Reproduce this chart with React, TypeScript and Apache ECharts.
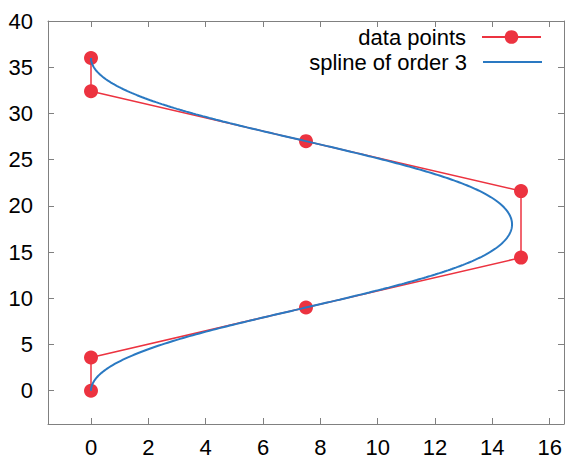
import React, { useEffect, useRef } from "react";
import * as echarts from "echarts";

const pointX = [0, 0, 7.5, 15, 15, 7.5, 0, 0];
const pointY = [0, 3.6, 9, 14.4, 21.6, 27, 32.4, 36];
const xTicks = [0, 2, 4, 6, 8, 10, 12, 14, 16];
const yTicks = [0, 5, 10, 15, 20, 25, 30, 35, 40];
const seriesNames = ["data points", "spline of order 3"];
const splineOrder = 3;

// clamped B-spline through the control points (de Boor)
function bspline(xs: number[], ys: number[], degree: number, samples: number) {
  const n = xs.length;
  const knots: number[] = [];
  for (let i = 0; i <= n + degree; i++) {
    if (i <= degree) knots.push(0);
    else if (i >= n) knots.push(n - degree);
    else knots.push(i - degree);
  }
  const tMax = n - degree;
  const out: number[][] = [];
  for (let s = 0; s <= samples; s++) {
    const t = (s / samples) * tMax;
    let k = degree;
    while (k < n - 1 && t >= knots[k + 1]) k++;
    const dx: number[] = [];
    const dy: number[] = [];
    for (let j = 0; j <= degree; j++) {
      dx.push(xs[j + k - degree]);
      dy.push(ys[j + k - degree]);
    }
    for (let r = 1; r <= degree; r++) {
      for (let j = degree; j >= r; j--) {
        const i = j + k - degree;
        const denom = knots[i + degree - r + 1] - knots[i];
        const a = denom === 0 ? 0 : (t - knots[i]) / denom;
        dx[j] = (1 - a) * dx[j - 1] + a * dx[j];
        dy[j] = (1 - a) * dy[j - 1] + a * dy[j];
      }
    }
    out.push([dx[degree], dy[degree]]);
  }
  return out;
}

const FONT = "Liberation Sans, Arial, sans-serif";
const RED = "#ec3340";
const BLUE = "#2a79c2";
const AXIS = "#808080";

export default function App() {
  const ref = useRef<HTMLDivElement>(null);
  useEffect(() => {
    if (!ref.current) return;
    const chart = echarts.init(ref.current, undefined, { renderer: "svg" });
    const pts = pointX.map((x, i) => [x, pointY[i]]);
    const spline = bspline(pointX, pointY, splineOrder, 400);
    const axisCommon = {
      type: "value" as const,
      axisLine: { show: true, onZero: false, lineStyle: { color: AXIS, width: 1 } },
      splitLine: { show: false },
    };
    chart.setOption({
      animation: false,
      backgroundColor: "#fff",
      grid: { left: 48, top: 21, right: 1, bottom: 36, show: false },
      xAxis: [
        {
          ...axisCommon,
          min: -1.5,
          max: 16.5,
          position: "bottom",
          axisTick: { inside: true, length: 6, customValues: xTicks, lineStyle: { color: AXIS } },
          axisLabel: { customValues: xTicks, fontSize: 22, color: "#000", margin: 12, fontFamily: FONT },
        },
        {
          ...axisCommon,
          min: -1.5,
          max: 16.5,
          position: "top",
          axisTick: { inside: true, length: 6, customValues: xTicks, lineStyle: { color: AXIS } },
          axisLabel: { show: false },
        },
      ],
      yAxis: [
        {
          ...axisCommon,
          min: -3.6,
          max: 40,
          position: "left",
          axisTick: { inside: true, length: 6, customValues: yTicks, lineStyle: { color: AXIS } },
          axisLabel: { customValues: yTicks, fontSize: 22, color: "#000", margin: 15, fontFamily: FONT },
        },
        {
          ...axisCommon,
          min: -3.6,
          max: 40,
          position: "right",
          axisTick: { inside: true, length: 6, customValues: yTicks, lineStyle: { color: AXIS } },
          axisLabel: { show: false },
        },
      ],
      legend: [
        {
          data: [seriesNames[0]],
          right: 23,
          top: 26,
          padding: 0,
          align: "right",
          itemWidth: 59,
          itemHeight: 17,
          textStyle: { fontSize: 22, color: "#000", fontFamily: FONT, padding: [0, 11, 0, 0] },
        },
        {
          data: [{ name: seriesNames[1], icon: "rect" }],
          right: 23,
          top: 51,
          padding: 0,
          align: "right",
          itemWidth: 59,
          itemHeight: 2,
          textStyle: { fontSize: 22, color: "#000", fontFamily: FONT, padding: [0, 11, 0, 0] },
        },
      ],
      series: [
        {
          name: seriesNames[0],
          type: "line",
          data: pts,
          symbol: "circle",
          symbolSize: 14,
          color: RED,
          itemStyle: { color: RED },
          lineStyle: { color: RED, width: 1.5 },
          z: 2,
        },
        {
          name: seriesNames[1],
          type: "line",
          data: spline,
          symbol: "none",
          showSymbol: false,
          color: BLUE,
          itemStyle: { color: BLUE },
          lineStyle: { color: BLUE, width: 2 },
          z: 3,
        },
      ],
    });
    return () => chart.dispose();
  }, []);
  return (
    <div
      ref={ref}
      style={{ position: "fixed", left: 0, top: 0, width: 565, height: 460 }}
    />
  );
}
